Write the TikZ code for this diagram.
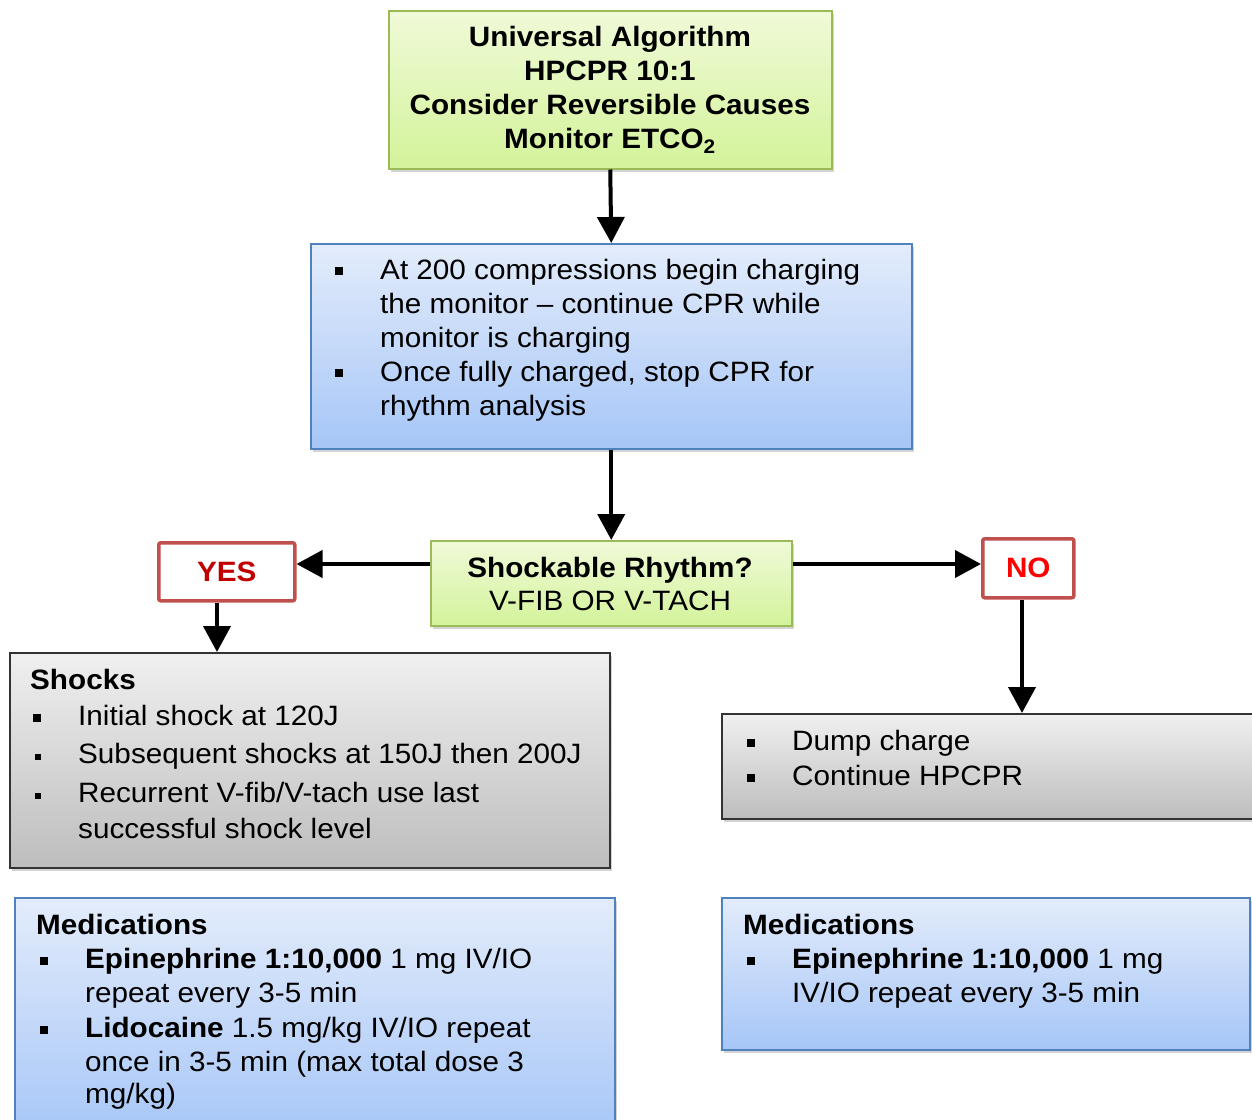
\documentclass[tikz,border=0pt]{standalone}
\usepackage{fontspec}
\setmainfont{Liberation Sans}[FakeStretch=1.06]
\usetikzlibrary{arrows.meta,shadows}
\definecolor{grnB}{HTML}{9BBB59}
\definecolor{grnT}{HTML}{F0FAD8}
\definecolor{grnBt}{HTML}{D3F39A}
\definecolor{bluB}{HTML}{4F81BD}
\definecolor{bluT}{HTML}{E3ECFB}
\definecolor{bluBt}{HTML}{A6C6F7}
\definecolor{gryT}{HTML}{F0F0F0}
\definecolor{gryBt}{HTML}{BDBDBD}
\definecolor{redB}{HTML}{C0504D}
\definecolor{yesC}{HTML}{C00000}
\definecolor{noC}{HTML}{FF0000}
\newcommand\bul[1][8pt]{\llap{\raisebox{4pt}{\rule{#1}{#1}}\hspace{37pt}}}
\tikzset{
  box/.style={draw, line width=1.5pt, anchor=north west, inner sep=0pt,
    drop shadow={shadow xshift=2pt, shadow yshift=-3pt, opacity=0.35}},
  gbox/.style={box, draw=grnB, top color=grnT, bottom color=grnBt},
  bbox/.style={box, draw=bluB, top color=bluT, bottom color=bluBt},
  sbox/.style={box, draw=black!80, top color=gryT, bottom color=gryBt},
  rbox/.style={draw=redB, line width=3.5pt, rounded corners=2pt, fill=white, anchor=north west, inner sep=0pt},
  txt/.style={inner sep=0pt, font=\fontsize{28}{34}\selectfont, align=left},
  arr/.style={line width=4pt, -{Triangle[width=27pt,length=26pt]}},
}
\begin{document}
\begin{tikzpicture}[x=1pt,y=-1pt]
\useasboundingbox (0,0) rectangle (1252,1119);
% boxes
\node[gbox, minimum width=443pt, minimum height=158pt] (top) at (388,10) {};
\node[bbox, minimum width=601pt, minimum height=205pt] (charge) at (310,243) {};
\node[gbox, minimum width=361pt, minimum height=85pt] (dec) at (430,540) {};
\node[rbox, minimum width=136pt, minimum height=58pt] (yes) at (157,541) {};
\node[rbox, minimum width=91pt, minimum height=59pt] (no) at (981,537) {};
\node[sbox, minimum width=600pt, minimum height=215pt] (shocks) at (9,652) {};
\node[sbox, minimum width=545pt, minimum height=105pt] (dump) at (721,713) {};
\node[bbox, minimum width=600pt, minimum height=240pt] (medl) at (14,897) {};
\node[bbox, minimum width=528pt, minimum height=152pt] (medr) at (721,897) {};
% texts
\node[txt, align=center, anchor=north, font=\fontsize{28}{34}\selectfont\bfseries] (toptxt) at (610,26)
  {Universal Algorithm\\HPCPR 10:1\\Consider Reversible Causes\\Monitor ETCO\textsubscript{2}};
\node[txt, anchor=north west] (chargetxt) at (380,259)
  {\bul At 200 compressions begin charging\\
   the monitor -- continue CPR while\\
   monitor is charging\\
   \bul Once fully charged, stop CPR for\\
   rhythm analysis};
\node[txt, align=center, anchor=north, font=\fontsize{28}{33}\selectfont] (dectxt) at (610,557)
  {\textbf{Shockable Rhythm?}\\V-FIB OR V-TACH};
\node[txt, font=\fontsize{28}{34}\selectfont\bfseries, text=yesC] (yestxt) at (yes.center) {YES};
\node[txt, font=\fontsize{28}{34}\selectfont\bfseries, text=noC] (notxt) at (no.center) {NO};
\node[txt, anchor=north west] (shockhead) at (30,669) {\textbf{Shocks}};
\node[txt, anchor=north west] (shocktxt) at (78,705)
  {\bul Initial shock at 120J\\[4pt]
   \bul[6pt]Subsequent shocks at 150J then 200J\\[5pt]
   \bul[6pt]Recurrent V-fib/V-tach use last\\[2pt]
   successful shock level};
\node[txt, anchor=north west] (dumptxt) at (792,730)
  {\bul Dump charge\\[1pt]\bul Continue HPCPR};
\node[txt, anchor=north west] (medlhead) at (36,914) {\textbf{Medications}};
\node[txt, anchor=north west] (medltxt) at (85,948)
  {\bul\textbf{Epinephrine 1:10,000} 1 mg IV/IO\\
   repeat every 3-5 min\\[1pt]
   \bul\textbf{Lidocaine} 1.5 mg/kg IV/IO repeat\\
   once in 3-5 min (max total dose 3\\[-2pt]
   mg/kg)};
\node[txt, anchor=north west] (medrhead) at (743,914) {\textbf{Medications}};
\node[txt, anchor=north west] (medrtxt) at (792,948)
  {\bul\textbf{Epinephrine 1:10,000} 1 mg\\
   IV/IO repeat every 3-5 min};
% connectors
\draw[arr] (top.south) -- (charge.north);
\draw[arr] (charge.south) -- (dec.north);
\draw[arr] (dec.west |- 0,564) -- (yes.east |- 0,564);
\draw[arr] (dec.east |- 0,564) -- (no.west |- 0,564);
\draw[arr] (yes.south -| 217,0) -- (shocks.north -| 217,0);
\draw[arr] (no.south -| 1022,0) -- (dump.north -| 1022,0);
\end{tikzpicture}
\end{document}
